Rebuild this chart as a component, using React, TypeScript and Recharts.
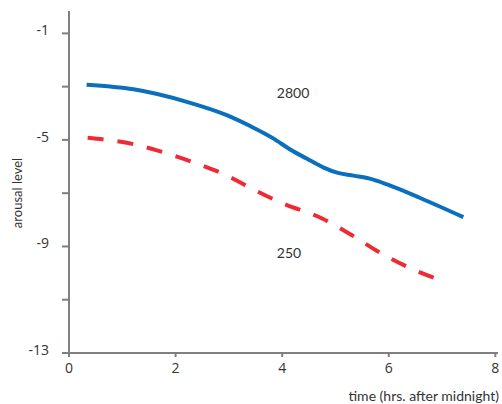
import { LineChart, Line, XAxis, YAxis, ReferenceDot, Label } from "recharts";

// time in hours after midnight, arousal level
const highTimes = [0.33, 1.21, 2.21, 2.96, 3.4, 3.84, 4.15, 4.46, 4.78, 5.03, 5.34, 5.71, 5.97, 6.59, 7.4];
const highLevels = [-2.93, -3.1, -3.57, -4.07, -4.48, -4.95, -5.36, -5.7, -6.04, -6.23, -6.34, -6.49, -6.67, -7.18, -7.9];

const lowTimes = [0.35, 1.21, 1.65, 2.4, 3.02, 3.31, 4.02, 4.75, 5.31, 5.85, 6.42, 7.02];
const lowLevels = [-4.92, -5.16, -5.39, -5.89, -6.39, -6.7, -7.39, -7.95, -8.58, -9.25, -9.83, -10.3];

const xTicks = [0, 2, 4, 6, 8];
const yTicks = [-13, -11, -9, -7, -5, -3, -1];
const yLabelled = [-13, -9, -5, -1];

const notes = [
  { text: "2800", t: 3.9, v: -3.24 },
  { text: "250", t: 3.9, v: -9.26 },
];

const highData = highTimes.map((t, i) => ({ t, v: highLevels[i] }));
const lowData = lowTimes.map((t, i) => ({ t, v: lowLevels[i] }));

const axisColor = "#7f7f7f";
const textColor = "#333333";

export default function App() {
  return (
    <div style={{ position: "absolute", left: 0, top: 0, background: "#fff" }}>
      <LineChart width={502} height={404} margin={{ top: 11, right: 4, left: 9, bottom: 21 }}>
        <XAxis
          type="number"
          dataKey="t"
          domain={[0, 8.05]}
          ticks={xTicks}
          allowDataOverflow
          stroke={axisColor}
          strokeWidth={2}
          tickSize={4}
          tickMargin={6}
          height={30}
          tick={{ fill: textColor, fontSize: 14, fontFamily: "Open Sans" }}
        >
          <Label
            content={(p: any) => (
              <text
                x={p.viewBox.x + p.viewBox.width + 1}
                y={p.viewBox.y + 43}
                dy="0.35em"
                textAnchor="end"
                fill={textColor}
                fontSize={14}
                fontFamily="Lato"
              >
                time (hrs. after midnight)
              </text>
            )}
          />
        </XAxis>
        <YAxis
          type="number"
          dataKey="v"
          domain={[-13, -0.16]}
          ticks={yTicks}
          allowDataOverflow
          stroke={axisColor}
          strokeWidth={2}
          tickSize={7}
          tickMargin={13}
          width={60}
          tickFormatter={(v) => (yLabelled.includes(v) ? String(v) : "")}
          tick={{ fill: textColor, fontSize: 14, fontFamily: "Open Sans", dy: -3 }}
        >
          <Label
            content={() => {
              const x = 17;
              const y = 193;
              return (
                <text
                  x={x}
                  y={y}
                  dy="0.35em"
                  textAnchor="middle"
                  transform={`rotate(-90, ${x}, ${y})`}
                  fill={textColor}
                  fontSize={13}
                  fontFamily="Lato"
                >
                  arousal level
                </text>
              );
            }}
          />
        </YAxis>
        <Line
          data={highData}
          dataKey="v"
          type="monotone"
          stroke="#0a70be"
          strokeWidth={4}
          dot={false}
          isAnimationActive={false}
        />
        <Line
          data={lowData}
          dataKey="v"
          type="monotone"
          stroke="#ee2a33"
          strokeWidth={4}
          strokeDasharray="16 14"
          dot={false}
          isAnimationActive={false}
        />
        {notes.map((n) => (
          <ReferenceDot
            key={n.text}
            x={n.t}
            y={n.v}
            r={0}
            shape={(p: any) => (
              <text x={p.cx} y={p.cy} dy="0.35em" fill={textColor} fontSize={14} fontFamily="Lato">
                {n.text}
              </text>
            )}
          />
        ))}
      </LineChart>
    </div>
  );
}
